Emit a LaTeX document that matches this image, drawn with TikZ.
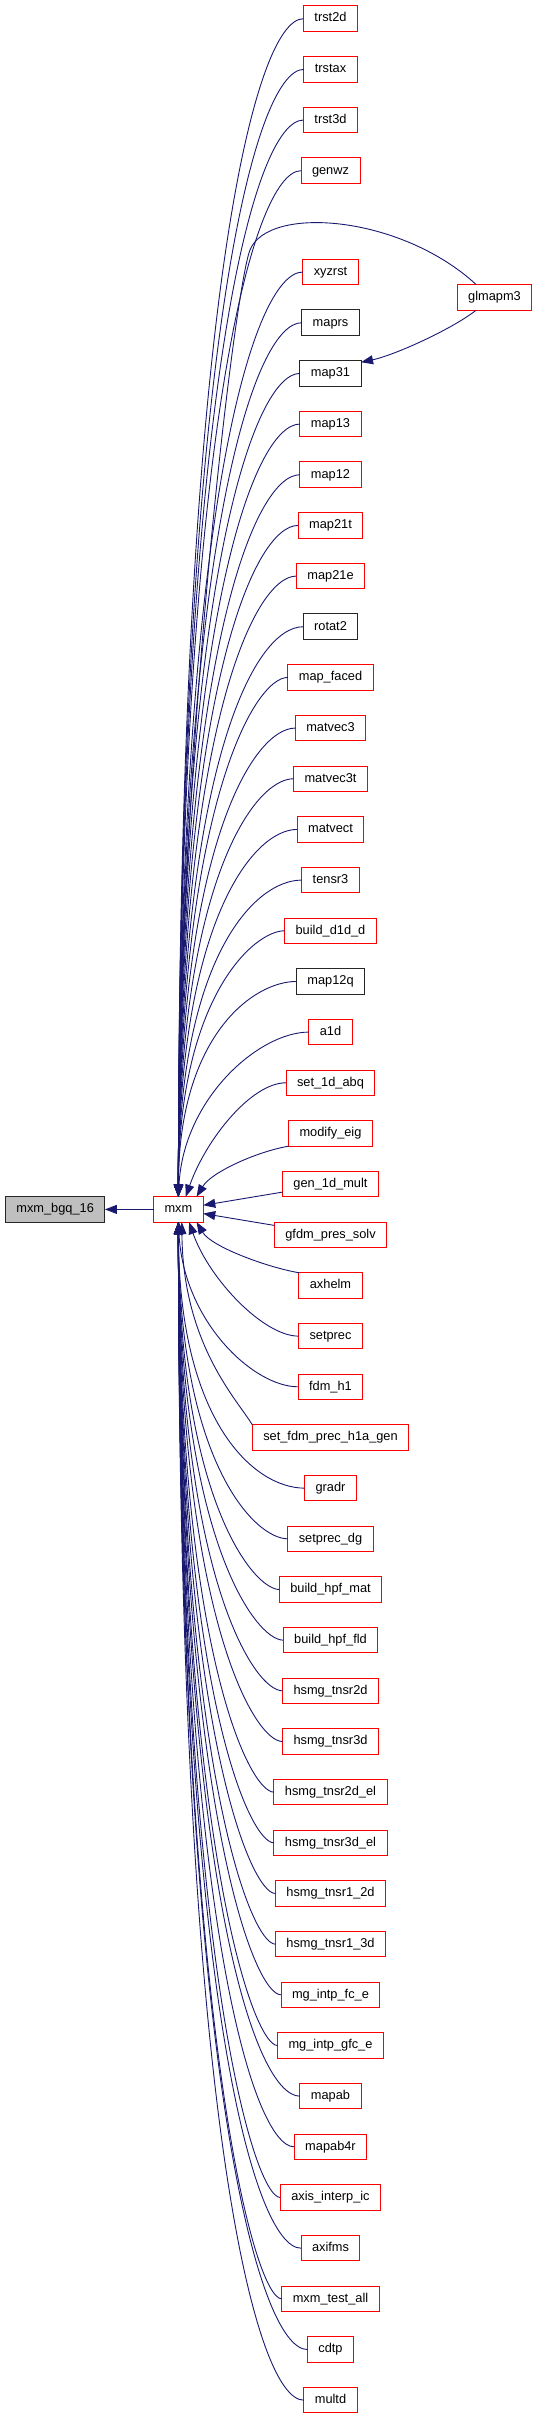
\documentclass[tikz,border=0pt]{standalone}
\usepackage{fontspec}
\setmainfont{Liberation Sans}
\usetikzlibrary{arrows.meta,positioning}
\definecolor{edgeblue}{HTML}{191970}
\definecolor{curgray}{HTML}{BFBFBF}
\tikzset{
  >={Triangle[length=12pt,width=9pt]},
  every node/.style={font=\fontsize{12.8}{15}\selectfont},
  fn/.style={draw=red, line width=1pt, minimum height=25.5pt, inner xsep=11pt,
    inner ysep=0pt, outer sep=0pt, text height=9.3pt, text depth=2.7pt},
  fnk/.style={fn, draw=black!85},
  cur/.style={fn, draw=black!85, fill=curgray},
  call/.style={->, draw=edgeblue, line width=0.9pt},
}
\begin{document}
\begin{tikzpicture}[x=1pt, y=-1pt, node distance=25.17pt]
  \useasboundingbox (0,0) rectangle (537,2419);

  \node[cur] (mxm_bgq_16) at (55.15,1209.4) {mxm\_bgq\_16};
  \node[fn] (mxm) at (178.4,1209.4) {mxm};
  \node[fn] (glmapm3) at (494.5,297.4) {glmapm3};

  \node[fn] (trst2d) at (330.5,18.7) {trst2d};
  \node[fn] (trstax) [below=of trst2d] {trstax};
  \node[fn] (trst3d) [below=of trstax] {trst3d};
  \node[fn] (genwz) [below=of trst3d] {genwz};
  \node[fn] (xyzrst) [below=75.84pt of genwz] {xyzrst};
  \node[fnk] (maprs) [below=of xyzrst] {maprs};
  \node[fnk] (map31) [below=of maprs] {map31};
  \node[fn] (map13) [below=of map31] {map13};
  \node[fn] (map12) [below=of map13] {map12};
  \node[fn] (map21t) [below=of map12] {map21t};
  \node[fn] (map21e) [below=of map21t] {map21e};
  \node[fnk] (rotat2) [below=of map21e] {rotat2};
  \node[fn] (map_faced) [below=of rotat2] {map\_faced};
  \node[fn] (matvec3) [below=of map_faced] {matvec3};
  \node[fn] (matvec3t) [below=of matvec3] {matvec3t};
  \node[fn] (matvect) [below=of matvec3t] {matvect};
  \node[fn] (tensr3) [below=of matvect] {tensr3};
  \node[fn] (build_d1d_d) [below=of tensr3] {build\_d1d\_d};
  \node[fnk] (map12q) [below=of build_d1d_d] {map12q};
  \node[fn] (a1d) [below=of map12q] {a1d};
  \node[fn] (set_1d_abq) [below=of a1d] {set\_1d\_abq};
  \node[fn] (modify_eig) [below=of set_1d_abq] {modify\_eig};
  \node[fn] (gen_1d_mult) [below=of modify_eig] {gen\_1d\_mult};
  \node[fn] (gfdm_pres_solv) [below=of gen_1d_mult] {gfdm\_pres\_solv};
  \node[fn] (axhelm) [below=of gfdm_pres_solv] {axhelm};
  \node[fn] (setprec) [below=of axhelm] {setprec};
  \node[fn] (fdm_h1) [below=of setprec] {fdm\_h1};
  \node[fn] (set_fdm_prec_h1a_gen) [below=of fdm_h1] {set\_fdm\_prec\_h1a\_gen};
  \node[fn] (gradr) [below=of set_fdm_prec_h1a_gen] {gradr};
  \node[fn] (setprec_dg) [below=of gradr] {setprec\_dg};
  \node[fn] (build_hpf_mat) [below=of setprec_dg] {build\_hpf\_mat};
  \node[fn] (build_hpf_fld) [below=of build_hpf_mat] {build\_hpf\_fld};
  \node[fn] (hsmg_tnsr2d) [below=of build_hpf_fld] {hsmg\_tnsr2d};
  \node[fn] (hsmg_tnsr3d) [below=of hsmg_tnsr2d] {hsmg\_tnsr3d};
  \node[fn] (hsmg_tnsr2d_el) [below=of hsmg_tnsr3d] {hsmg\_tnsr2d\_el};
  \node[fn] (hsmg_tnsr3d_el) [below=of hsmg_tnsr2d_el] {hsmg\_tnsr3d\_el};
  \node[fn] (hsmg_tnsr1_2d) [below=of hsmg_tnsr3d_el] {hsmg\_tnsr1\_2d};
  \node[fn] (hsmg_tnsr1_3d) [below=of hsmg_tnsr1_2d] {hsmg\_tnsr1\_3d};
  \node[fn] (mg_intp_fc_e) [below=of hsmg_tnsr1_3d] {mg\_intp\_fc\_e};
  \node[fn] (mg_intp_gfc_e) [below=of mg_intp_fc_e] {mg\_intp\_gfc\_e};
  \node[fn] (mapab) [below=of mg_intp_gfc_e] {mapab};
  \node[fn] (mapab4r) [below=of mapab] {mapab4r};
  \node[fn] (axis_interp_ic) [below=of mapab4r] {axis\_interp\_ic};
  \node[fn] (axifms) [below=of axis_interp_ic] {axifms};
  \node[fn] (mxm_test_all) [below=of axifms] {mxm\_test\_all};
  \node[fn] (cdtp) [below=of mxm_test_all] {cdtp};
  \node[fn] (multd) [below=of cdtp] {multd};

  \coordinate (bend) at (250,250);

  \draw[call] (mxm) -- (mxm_bgq_16);
  \draw[call] (glmapm3.145) .. controls +(-76,-70) and +(18,-45) .. (bend)
    .. controls +(-15,37) and +(0,-446) .. (mxm.north);
  \draw[call] (glmapm3.215) .. controls +(-26,20) and +(33,-7) .. (map31.20);

  \draw[call] (trst2d.west) .. controls +(-50,0) and +(0,-883) .. (mxm.north);
  \draw[call] (trstax.west) .. controls +(-50,0) and +(0,-845) .. (mxm.north);
  \draw[call] (trst3d.west) .. controls +(-50,0) and +(0,-807) .. (mxm.north);
  \draw[call] (genwz.west) .. controls +(-47,0) and +(0,-769) .. (mxm.north);
  \draw[call] (xyzrst.west) .. controls +(-49,0) and +(0,-693) .. (mxm.north);
  \draw[call] (maprs.west) .. controls +(-48,0) and +(0,-655) .. (mxm.north);
  \draw[call] (map31.west) .. controls +(-46,0) and +(0,-617) .. (mxm.north);
  \draw[call] (map13.west) .. controls +(-46,0) and +(0,-579) .. (mxm.north);
  \draw[call] (map12.west) .. controls +(-46,0) and +(0,-541) .. (mxm.north);
  \draw[call] (map21t.west) .. controls +(-45,0) and +(0,-503) .. (mxm.north);
  \draw[call] (map21e.west) .. controls +(-43,0) and +(0,-465) .. (mxm.north);
  \draw[call] (rotat2.west) .. controls +(-50,0) and +(0,-427) .. (mxm.north);
  \draw[call] (map_faced.west) .. controls +(-34,0) and +(0,-389) .. (mxm.north);
  \draw[call] (matvec3.west) .. controls +(-42,0) and +(0,-351) .. (mxm.north);
  \draw[call] (matvec3t.west) .. controls +(-40,0) and +(0,-313) .. (mxm.north);
  \draw[call] (matvect.west) .. controls +(-44,0) and +(0,-275) .. (mxm.north);
  \draw[call] (tensr3.west) .. controls +(-48,0) and +(0,-237) .. (mxm.north);
  \draw[call] (build_d1d_d.west) .. controls +(-31,0) and +(0,-199) .. (mxm.north);
  \draw[call] (map12q.west) .. controls +(-43,0) and +(0,-161) .. (mxm.north);
  \draw[call] (a1d.west) .. controls +(-50,0) and +(5,-98) .. (mxm.north);
  \draw[call] (set_1d_abq.west) .. controls +(-35,0) and +(20,-57) .. (mxm.60);
  \draw[call] (modify_eig.south west) .. controls +(-30,5) and +(15,-25) .. (mxm.35);
  \draw[call] (gen_1d_mult) -- (mxm);
  \draw[call] (gfdm_pres_solv) -- (mxm);
  \draw[call] (axhelm.north west) .. controls +(-30,-5) and +(15,25) .. (mxm.325);
  \draw[call] (setprec.west) .. controls +(-35,0) and +(20,57) .. (mxm.310);
  \draw[call] (fdm_h1.west) .. controls +(-45,0) and +(5,99) .. (mxm.south);
  \draw[call] (set_fdm_prec_h1a_gen.north west) .. controls +(-15,-25) and +(1,122) .. (mxm.285);
  \draw[call] (gradr.west) .. controls +(-50,0) and +(0,200) .. (mxm.south);
  \draw[call] (setprec_dg.west) .. controls +(-34,0) and +(0,238) .. (mxm.south);
  \draw[call] (build_hpf_mat.west) .. controls +(-26,0) and +(0,276) .. (mxm.south);
  \draw[call] (build_hpf_fld.west) .. controls +(-28,0) and +(0,314) .. (mxm.south);
  \draw[call] (hsmg_tnsr2d.west) .. controls +(-29,0) and +(0,352) .. (mxm.south);
  \draw[call] (hsmg_tnsr3d.west) .. controls +(-29,0) and +(0,390) .. (mxm.south);
  \draw[call] (hsmg_tnsr2d_el.west) .. controls +(-25,0) and +(0,428) .. (mxm.south);
  \draw[call] (hsmg_tnsr3d_el.west) .. controls +(-25,0) and +(0,466) .. (mxm.south);
  \draw[call] (hsmg_tnsr1_2d.west) .. controls +(-25,0) and +(0,504) .. (mxm.south);
  \draw[call] (hsmg_tnsr1_3d.west) .. controls +(-25,0) and +(0,542) .. (mxm.south);
  \draw[call] (mg_intp_fc_e.west) .. controls +(-28,0) and +(0,580) .. (mxm.south);
  \draw[call] (mg_intp_gfc_e.west) .. controls +(-25,0) and +(0,618) .. (mxm.south);
  \draw[call] (mapab.west) .. controls +(-46,0) and +(0,656) .. (mxm.south);
  \draw[call] (mapab4r.west) .. controls +(-41,0) and +(0,694) .. (mxm.south);
  \draw[call] (axis_interp_ic.west) .. controls +(-27,0) and +(0,732) .. (mxm.south);
  \draw[call] (axifms.west) .. controls +(-47,0) and +(0,770) .. (mxm.south);
  \draw[call] (mxm_test_all.west) .. controls +(-28,0) and +(0,808) .. (mxm.south);
  \draw[call] (cdtp.west) .. controls +(-50,0) and +(0,846) .. (mxm.south);
  \draw[call] (multd.west) .. controls +(-50,0) and +(0,884) .. (mxm.south);
\end{tikzpicture}
\end{document}
